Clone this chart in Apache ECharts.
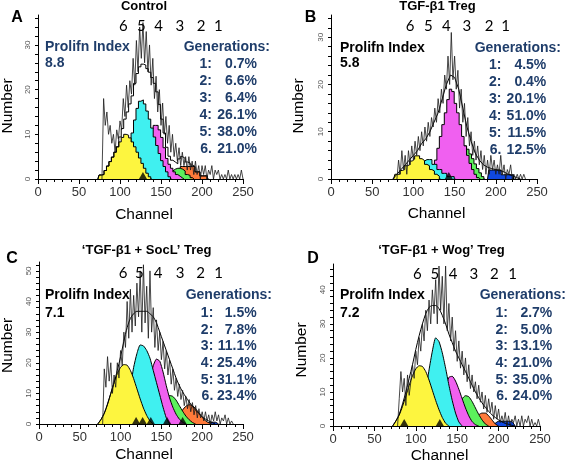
<!DOCTYPE html>
<html><head><meta charset="utf-8">
<script src="https://cdn.jsdelivr.net/npm/echarts@6/dist/echarts.min.js"></script>
<style>html,body{margin:0;padding:0;background:#fff}#c{width:567px;height:466px}</style>
</head><body><div id="c"></div>
<script>
// ---------------- DATA ----------------
const panelLetters = ['A', 'B', 'C', 'D'];
const panelTitles = ['Control', 'TGF-β1 Treg', '‘TGF-β1 + SocL’ Treg', '‘TGF-β1 + Wog’ Treg'];
const prolifIndex = ['8.8', '5.8', '7.1', '7.2'];
const genNames = ['1:', '2:', '3:', '4:', '5:', '6.'];
const genPctA = ['0.7%', '6.6%', '6.4%', '26.1%', '38.0%', '21.0%'];
const genPctB = ['4.5%', '0.4%', '20.1%', '51.0%', '11.5%', '12.5%'];
const genPctC = ['1.5%', '7.8%', '11.1%', '25.4%', '31.1%', '23.4%'];
const genPctD = ['2.7%', '5.0%', '13.1%', '21.0%', '35.0%', '24.0%'];
const genLabelText = ['6', '5', '4', '3', '2', '1'];
const genLabelChA = [104, 126, 147, 173, 199, 220];
const genLabelChB = [96, 118, 140, 165, 192, 212];
const genLabelChC = [103, 123, 146, 173, 198, 220];
const genLabelChD = [102, 123, 145, 170, 195, 217];
const markerChA = [128];
const markerChB = [143];
const markerChC = [119, 127, 137, 157, 176];
const markerChD = [86, 129];
const xTickLabels = [0, 50, 100, 150, 200, 250];
const yTickLabelsA = [0, 10, 20, 30];
const yTickLabelsB = [0, 10, 20, 30];
const yTickLabelsC = [0, 10, 20, 30, 40, 50];
const yTickLabelsD = [0, 10, 20, 30, 40];

// generation peaks: first channel, channel step, heights
const aGen6 = {from: 73, by: 3, v: [0,0.9,1.0,1.9,2.9,3.9,4.9,6.0,7.2,8.3,9.3,10.0,9.8,9.2,8.3,7.2,6.0,4.7,3.5,2.4,1.3,0.5,0]};
const aGen5 = {from: 97, by: 3, v: [0,1.1,2.0,3.4,5.2,7.6,10.3,13.2,15.8,17.4,17.7,16.8,15.2,13.4,11.4,9.4,7.5,5.7,4.1,2.8,1.6,0.5,0]};
const aGen4 = {from: 115, by: 3, v: [0,1.0,1.8,3.0,4.5,6.3,8.2,10.0,11.3,12.0,12.0,11.0,9.3,7.0,4.6,3.3,2.4,1.6,1.0,0.6,0.2,0]};
const aGen3 = {from: 151, by: 3, v: [0,0.5,0.9,1.3,1.8,2.2,2.4,2.4,2.2,1.8,1.0,0.8,0.3,0]};
const aGen2 = {from: 169, by: 3, v: [0,1.5,2.8,2.8,2.8,2.8,2.8,2.8,1.6,1.6,0.7,0.7,0.7,0]};
const aGen1 = {from: 0, by: 3, v: []};
const aFit = {from: 73, by: 3, v: [0,0.9,1.0,1.9,2.9,3.9,4.9,6.0,7.2,9.4,11.3,13.4,15.0,16.8,18.6,21.4,23.6,25.1,25.7,25.5,24.7,23.9,22.7,21.4,19.5,16.7,13.4,10.3,7.1,5.1,4.2,3.8,3.4,4.5,5.0,4.6,3.8,3.6,3.1,2.8,1.6,1.6,0.7,0.7,0.7,0]};
const aRaw = {from: 78, by: 2, v: [0,18,12,15,10,12,8,10,6,11,9,13,11,18,14,21,16,22,19,27,21,31,24,34,27,35,26,33,24,30,21,27,18,23,15,20,12,17,10,14,8,12,6,10,5,8,4,7,3,6,3,5,2,5,2,4,1,4,1,3,0,3,1,3,0,2,1,3,0,2,1,2,0,1,0,1,0,2,0,1,0,1,0,1,0,2,0]};

const bGen6 = {from: 76, by: 3, v: [0,1.0,1.0,1.8,2.0,2.8,3.0,3.8,4.2,4.9,4.9,4.3,3.9,3.1,2.8,2.0,1.7,1.0,0.6,0]};
const bGen5 = {from: 100, by: 3, v: [0,2.0,2.6,3.3,3.8,4.1,4.1,4.1,3.1,3.1,2.0,2.0,1.2,1.2,0.5,0.5,0.5,0]};
const bGen4 = {from: 118, by: 3, v: [0,0.5,2.0,4.0,6.5,9.0,11.5,14.0,16.8,19.0,18.5,16.0,14.0,11.5,9.0,7.0,5.0,3.3,2.0,1.0,0.3,0]};
const bGen3 = {from: 154, by: 3, v: [0,4.0,7.0,7.0,6.3,5.3,4.3,3.2,2.2,1.3,0.5,0]};
const bGen2 = {from: 0, by: 3, v: []};
const bGen1 = {from: 190, by: 3, v: [0,1.9,1.9,1.9,1.9,1.9,0.9,0.9,0.9,0.9,0.9,0]};
const bFit = {from: 75, by: 5, v: [0,1,2,3,4,5,6,7.5,8.5,10,12,14,17,20,22,21.5,19,15,11,8,5.5,4,3,2.5,2.2,2,1.8,1.5,1,0.7,0.3,0]};
const bRaw = {from: 80, by: 2, v: [0,4,1,6,2,5,1,6,3,7,4,8,5,9,6,10,7,11,8,12,9,13,11,15,12,17,14,19,16,22,19,26,20,31,21,26,19,23,15,19,12,16,9,13,7,10,5,8,4,7,3,6,2,5,1,4,1,5,2,4,1,3,1,5,1,3,0,2,1,3,0,1,0,1,0,1,0,1,0]};

const cGen6 = {from: 72, by: 4, v: [0,1.5,3.5,6.5,10.0,13.5,16.5,18.5,19.4,19.2,17.5,14.8,11.5,8.2,5.2,2.8,1.0,0]};
const cGen5 = {from: 96, by: 4, v: [0,1.0,3.0,6.5,12.0,18.5,23.0,25.8,25.5,24.0,21.5,17.5,13.5,9.5,5.5,2.0,0]};
const cGen4 = {from: 120, by: 4, v: [0,2.0,5.0,9.5,14.5,19.0,21.2,20.5,17.0,12.5,8.5,5.5,3.2,1.6,0.6,0]};
const cGen3 = {from: 140, by: 4, v: [0,2.0,4.5,7.0,8.7,9.3,9.0,7.8,6.0,4.2,2.6,1.4,0.5,0]};
const cGen2 = {from: 164, by: 4, v: [0,1.5,3.0,4.6,5.8,6.3,6.0,5.0,3.6,2.2,1.1,0.4,0]};
const cGen1 = {from: 204, by: 4, v: [0,0.5,0.6,0.6,0]};
const cFit = {from: 72, by: 4, v: [0,1.5,3.5,6.5,10,13.5,17.5,22,27,31.5,34.5,36,36.8,36.8,36.8,36.8,36,35,33,30,27,24,21,18,15,12.5,10.5,8.8,7.2,5.8,4.5,3.4,2.4,1.6,1.0,0.5,0]};
const cRaw = {from: 78, by: 2, v: [0,18,12,22,14,20,10,16,12,20,15,24,19,30,25,40,28,44,30,42,32,46,35,50,30,52,33,45,28,50,30,38,25,34,24,30,21,27,18,24,16,21,13,18,11,15,9,13,8,11,6,9,5,8,4,7,3,6,2,5,2,4,1,4,1,3,0,3,1,4,1,3,0,2,1,3,0,2,0,1,0]};

const dGen6 = {from: 72, by: 4, v: [0,1.5,3.2,5.8,8.8,12.0,14.8,16.8,17.7,17.5,16.0,13.5,10.5,7.5,4.8,2.5,0.8,0]};
const dGen5 = {from: 96, by: 4, v: [0,1.0,2.5,5.5,10.5,16.5,22.0,25.9,24.8,21.5,17.0,12.0,7.5,3.8,1.2,0]};
const dGen4 = {from: 120, by: 4, v: [0,1.5,4.0,7.5,11.5,14.3,14.6,13.2,10.8,8.0,5.3,3.0,1.3,0.4,0]};
const dGen3 = {from: 140, by: 4, v: [0,1.5,3.5,6.0,8.0,8.9,8.6,7.2,5.3,3.4,1.8,0.6,0]};
const dGen2 = {from: 164, by: 4, v: [0,1.5,2.6,3.3,3.8,3.8,3.0,1.8,0.6,0]};
const dGen1 = {from: 192, by: 4, v: [0,0.8,1.4,1.4,1.4,1.4,1.3,0]};
const dFit = {from: 72, by: 4, v: [0,1.5,3.5,6.5,10,14,18,22.5,26.5,30,33,34.8,35.4,35.4,34.5,32.5,30,27,24.5,22,20,18,16,14,12,10,8.3,6.8,5.5,4.3,3.3,2.5,1.8,1.2,0.8,0.5,0.2,0]};
const dRaw = {from: 78, by: 2, v: [0,8,16,10,14,6,15,9,13,18,14,22,18,26,22,30,25,34,28,37,30,40,33,43,30,47,34,44,30,47,28,36,25,32,22,28,19,25,17,22,15,20,13,18,11,15,10,13,8,12,7,10,5,9,4,8,4,7,2,6,2,5,1,3,1,4,0,3,0,2,1,3,0,2,0,3,0,2,1,3,0,2,0,1,0,2,0]};

// ---------------- CHART ----------------
const panels = [
  {gens: [aGen1, aGen2, aGen3, aGen4, aGen5, aGen6], fit: aFit, raw: aRaw, marks: markerChA, labCh: genLabelChA, pct: genPctA, yTicks: yTickLabelsA, stepped: true},
  {gens: [bGen1, bGen2, bGen3, bGen4, bGen5, bGen6], fit: bFit, raw: bRaw, marks: markerChB, labCh: genLabelChB, pct: genPctB, yTicks: yTickLabelsB, stepped: true},
  {gens: [cGen1, cGen2, cGen3, cGen4, cGen5, cGen6], fit: cFit, raw: cRaw, marks: markerChC, labCh: genLabelChC, pct: genPctC, yTicks: yTickLabelsC, stepped: false},
  {gens: [dGen1, dGen2, dGen3, dGen4, dGen5, dGen6], fit: dFit, raw: dRaw, marks: markerChD, labCh: genLabelChD, pct: genPctD, yTicks: yTickLabelsD, stepped: false}
];
const genColors = ['#1048e0', '#ff7a3a', '#5cf05c', '#f060f0', '#40f0f0', '#fdf53f'];
const grids = [
  {left: 38, top: 15, width: 205, height: 164},
  {left: 331, top: 15, width: 206, height: 164},
  {left: 39, top: 262, width: 204, height: 162},
  {left: 333, top: 264, width: 207, height: 162}
];
const yMax = [36.7, 34.7, 52.9, 47.6];
const FONT = '"Liberation Sans", Arial, sans-serif';
const BLUE = '#1f3d6a';

function pts(s) { return s.v.map((v, i) => [s.from + i * s.by, v]); }

const series = [];
const xAxis = [], yAxis = [];
panels.forEach((p, i) => {
  xAxis.push({
    type: 'value', gridIndex: i, min: 0, max: 250, interval: 50, z: 30,
    axisLine: {show: true, onZero: false, lineStyle: {color: '#000', width: 1}},
    axisTick: {show: true, length: 5, lineStyle: {color: '#000'}},
    minorTick: {show: true, splitNumber: 5, length: 3, lineStyle: {color: '#000'}},
    splitLine: {show: false},
    axisLabel: {fontSize: 13, color: '#333', fontFamily: FONT, margin: 7,
      formatter: v => xTickLabels.includes(v) ? String(v) : ''}
  });
  yAxis.push({
    type: 'value', gridIndex: i, min: 0, max: yMax[i], interval: 2, z: 30,
    axisLine: {show: true, onZero: false, lineStyle: {color: '#000', width: 1}},
    axisTick: {show: true, length: 3, lineStyle: {color: '#000'}},
    splitLine: {show: false},
    axisLabel: {fontSize: 8, color: '#555', fontFamily: FONT, margin: 6, rotate: 90,
      showMaxLabel: false,
      formatter: v => p.yTicks.includes(v) ? String(v) : ''}
  });
  p.gens.forEach((g, k) => {
    if (!g.v.length) return;
    series.push({
      type: 'line', xAxisIndex: i, yAxisIndex: i, data: pts(g),
      step: p.stepped ? 'middle' : false, smooth: p.stepped ? false : 0.2,
      symbol: 'none', areaStyle: {color: genColors[k], opacity: 1},
      lineStyle: {color: '#000', width: 1}, z: 2 + k, silent: true
    });
  });
  series.push({
    type: 'line', xAxisIndex: i, yAxisIndex: i, data: pts(p.fit),
    step: i === 0 ? 'middle' : false, smooth: i >= 2 ? 0.3 : false,
    symbol: 'none', lineStyle: {color: '#000', width: 1}, z: 10, silent: true
  });
  series.push({
    type: 'line', xAxisIndex: i, yAxisIndex: i, data: pts(p.raw),
    symbol: 'none', lineStyle: {color: '#1a1a1a', width: 0.8}, z: 11, silent: true
  });
  series.push({
    type: 'scatter', xAxisIndex: i, yAxisIndex: i, data: p.marks.map(c => [c, 0]),
    symbol: 'triangle', symbolSize: [8, 7], symbolOffset: [0, -3.5],
    itemStyle: {color: '#000'}, z: 12, silent: true
  });
});

const chart = echarts.init(document.getElementById('c'), null, {renderer: 'canvas'});
chart.setOption({
  animation: false,
  backgroundColor: '#fff',
  grid: grids.map(g => Object.assign({outerBoundsMode: 'none', containLabel: false}, g)),
  xAxis, yAxis, series
});

// ---------------- TEXT ----------------
const layout = [
  {letter: [17, 17.5], title: [144, 6], prolif: [45, 47.5, 63], gen: [270, 47.5], lab: 212, val: 257, list0: 64.3, dy: 17, nums: 26, number: [7.5, 106], channel: [144, 214.5], prolifColor: BLUE},
  {letter: [310.5, 17.5], title: [437.5, 6], prolif: [340, 48, 63], gen: [561, 48], lab: 501.5, val: 546.3, list0: 65, dy: 17, nums: 26.5, number: [299, 106], channel: [436.5, 214], prolifColor: '#000'},
  {letter: [12, 259], title: [146.7, 250], prolif: [45, 295, 313], gen: [272, 295], lab: 213.3, val: 256.7, list0: 313, dy: 16.7, nums: 273, number: [7.5, 345.5], channel: [144, 455], prolifColor: '#000'},
  {letter: [313, 259], title: [441.5, 250], prolif: [340, 294.7, 313], gen: [566, 295], lab: 508, val: 552.3, list0: 313, dy: 16.7, nums: 274, number: [302, 350], channel: [439.5, 456], prolifColor: '#000'}
];
const g = [];
function txt(x, y, text, font, fill, align, rot) {
  g.push({type: 'text', x, y, rotation: rot || 0, silent: true, z: 40,
    style: {text, font, fill, align: align || 'center', verticalAlign: 'middle'}});
}
panels.forEach((p, i) => {
  const L = layout[i];
  txt(L.letter[0], L.letter[1], panelLetters[i], 'bold 16px ' + FONT, '#000');
  txt(L.title[0], L.title[1], panelTitles[i], 'bold 13px ' + FONT, '#000');
  txt(L.prolif[0], L.prolif[1], 'Prolifn Index', 'bold 14px ' + FONT, L.prolifColor, 'left');
  txt(L.prolif[0], L.prolif[2], prolifIndex[i], 'bold 14px ' + FONT, L.prolifColor, 'left');
  txt(L.gen[0], L.gen[1], 'Generations:', 'bold 14px ' + FONT, BLUE, 'right');
  genNames.forEach((n, k) => {
    const y = L.list0 + k * L.dy;
    txt(L.lab, y, n, 'bold 14px ' + FONT, BLUE, 'right');
    txt(L.val, y, p.pct[k], 'bold 14px ' + FONT, BLUE, 'right');
  });
  p.labCh.forEach((c, k) => {
    const x = chart.convertToPixel({xAxisIndex: i}, c);
    txt(x, L.nums, genLabelText[k], '15px Lato, "Open Sans", sans-serif', '#000');
  });
  txt(L.number[0], L.number[1], 'Number', '15.5px ' + FONT, '#000', 'center', Math.PI / 2);
  txt(L.channel[0], L.channel[1], 'Channel', '15.5px ' + FONT, '#000');
});
chart.setOption({graphic: g});
</script></body></html>
